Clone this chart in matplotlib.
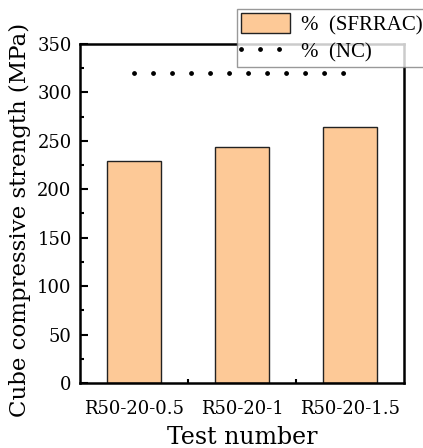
import matplotlib
matplotlib.use("Agg")
import matplotlib.pyplot as plt
from matplotlib.ticker import MultipleLocator

categories = ["R50-20-0.5", "R50-20-1", "R50-20-1.5"]
sfrrac_values = [229, 244, 264]
nc_value = 320
legend_labels = ['%  (SFRRAC)', '%  (NC)']

plt.rcParams['font.family'] = ['DejaVu Serif', 'DejaVu Sans']

fig = plt.figure(figsize=(4.23, 4.48), dpi=100)
ax = fig.add_axes([80/423, 1-383/448, (404-80)/423, (383-44)/448])

x = list(range(len(categories)))
bars = ax.bar(x, sfrrac_values, width=0.5, color='#FDC997', edgecolor='#222222',
              linewidth=1.0, label=legend_labels[0], zorder=2)
line, = ax.plot([x[0], x[-1]], [nc_value, nc_value], color='black', linewidth=3.5,
                linestyle=(0, (0.01, 3.9)), dash_capstyle='round',
                label=legend_labels[1], zorder=3)

ax.set_xlim(-0.5, 2.5)
ax.set_ylim(0, 350)
ax.set_xticks(x)
ax.set_xticklabels(categories, fontsize=13)
ax.yaxis.set_major_locator(MultipleLocator(50))
ax.yaxis.set_minor_locator(MultipleLocator(25))
ax.set_xticks([0.5, 1.5], minor=True)
ax.tick_params(axis='y', which='major', direction='in', length=6, width=1.5,
               labelsize=13, right=False, pad=6)
ax.tick_params(axis='x', which='major', direction='in', length=6, width=1.5,
               labelsize=13, top=False, pad=12)
ax.tick_params(axis='both', which='minor', direction='in', length=3, width=1.5,
               top=False, right=False)
for s in ax.spines.values():
    s.set_linewidth(1.8)

ax.set_xlabel('Test number', fontsize=17, labelpad=6)
ax.set_ylabel('Cube compressive strength (MPa)', fontsize=16.5, labelpad=6)
ax.yaxis.set_label_coords(-0.15, 0.48)

leg = fig.legend(handles=[bars, line], labels=legend_labels,
                 loc='upper left', bbox_to_anchor=(237/423, 1-9/448),
                 prop={'family': 'Liberation Serif', 'size': 15},
                 frameon=True, fancybox=False, handlelength=2.35,
                 handleheight=1.1, handletextpad=0.5, borderpad=0.2,
                 labelspacing=0.25, borderaxespad=0)
leg.get_frame().set_edgecolor('#808080')
leg.get_frame().set_linewidth(1.0)

fig.savefig('out.png', dpi=100)
